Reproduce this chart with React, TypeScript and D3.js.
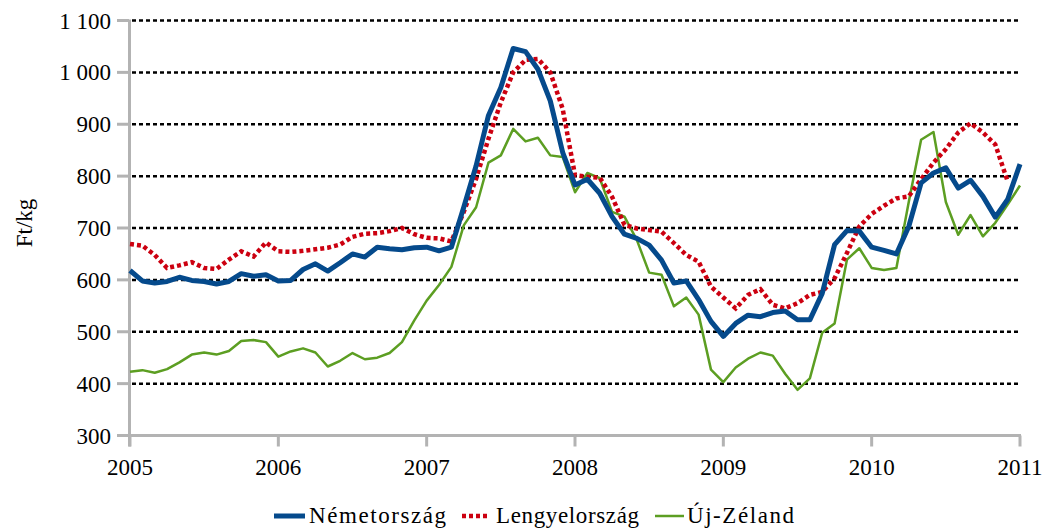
import React from "react";
import * as d3 from "d3";

const years = ["2005", "2006", "2007", "2008", "2009", "2010", "2011"];
const yTicks = [300, 400, 500, 600, 700, 800, 900, 1000, 1100];

const nemetorszag = [
  618, 598, 594, 597, 605, 599, 597, 592, 597, 612, 607, 610,
  598, 599, 620, 631, 617, 633, 650, 644, 663, 660, 658, 662,
  663, 656, 663, 740, 820, 917, 971, 1046, 1040, 1006, 945, 846,
  783, 794, 767, 722, 688, 680, 667, 638, 594, 598, 562, 520,
  491, 516, 532, 529, 537, 540, 523, 523, 574, 668, 695, 694,
  663, 657, 650, 703, 787, 806, 816, 777, 792, 761, 721, 755,
  823,
];

const lengyelorszag = [
  669, 666, 648, 623, 628, 634, 623, 621, 639, 655, 645, 672,
  655, 654, 656, 659, 662, 668, 683, 689, 690, 694, 700, 688,
  681, 680, 674, 731, 795, 872, 942, 1000, 1024, 1026, 1000, 930,
  802, 799, 797, 760, 706, 699, 696, 693, 671, 648, 635, 587,
  566, 545, 571, 582, 552, 545, 555, 571, 577, 603, 652, 703,
  727, 743, 757, 761, 794, 826, 852, 884, 902, 884, 861, 790,
];

const ujZeland = [
  423, 426, 421, 428, 441, 456, 460, 456, 463, 482, 484, 480,
  452, 462, 468, 460, 433, 444, 459, 447, 450, 459, 480, 522,
  560, 590, 625, 705, 740, 826, 840, 891, 867, 874, 840, 837,
  769, 806, 796, 731, 722, 677, 614, 610, 549, 566, 533, 427,
  403, 431, 448, 460, 454, 419, 388, 410, 498, 516, 639, 661,
  623, 619, 623, 750, 870, 885, 750, 687, 725, 684, 710, 745,
  782,
];

const seriesNames = ["Németország", "Lengyelország", "Új-Zéland"];

const W = 1045;
const H = 530;
const FONT = "'Liberation Serif', 'Times New Roman', serif";

export default function App() {
  const x = d3.scaleLinear().domain([0, 72]).range([130, 1020]);
  const y = d3.scaleLinear().domain([300, 1100]).range([435.5, 20.5]);
  const line = d3
    .line<number>()
    .x((_, i) => x(i))
    .y((d) => y(d));

  const axisColor = "#b3b3b3";
  const blue = "#054a8c";
  const red = "#cc0010";
  const green = "#5c9e22";

  const legend = [
    { name: seriesNames[0], color: blue, width: 5, dash: undefined as string | undefined, x1: 274, x2: 305, tx: 309, tl: 137 },
    { name: seriesNames[1], color: red, width: 4.5, dash: "4 3", x1: 462, x2: 489, tx: 496, tl: 143 },
    { name: seriesNames[2], color: green, width: 2.5, dash: undefined, x1: 655, x2: 684, tx: 687, tl: 107 },
  ];

  return (
    <svg
      width={W}
      height={H}
      style={{ position: "absolute", left: 0, top: 0, background: "#fff" }}
      fontFamily={FONT}
    >
      <rect x={0} y={0} width={W} height={H} fill="#fff" />
      {/* gridlines */}
      {yTicks
        .filter((t) => t > 300)
        .map((t) => (
          <line
            key={"g" + t}
            x1={132}
            x2={1021}
            y1={y(t)}
            y2={y(t)}
            stroke="#000"
            strokeWidth={2.5}
            strokeDasharray="4 3"
          />
        ))}
      {/* y axis */}
      <line x1={129.5} x2={129.5} y1={y(1100) - 1} y2={y(300) + 11} stroke={axisColor} strokeWidth={3} />
      {yTicks.map((t) => (
        <g key={"yt" + t}>
          <line x1={117} x2={129} y1={y(t)} y2={y(t)} stroke={axisColor} strokeWidth={3} />
          <text
            x={111}
            y={y(t)}
            dy="0.35em"
            textAnchor="end"
            fontSize={23}
            fill="#000"
          >
            {d3.format(",")(t).replace(",", " ")}
          </text>
        </g>
      ))}
      {/* x axis */}
      <line x1={128} x2={1021} y1={y(300)} y2={y(300)} stroke={axisColor} strokeWidth={3} />
      {years.map((yr, i) => (
        <g key={"xt" + yr}>
          <line x1={x(i * 12)} x2={x(i * 12)} y1={y(300)} y2={y(300) + 11} stroke={axisColor} strokeWidth={3} />
          <text x={x(i * 12)} y={475} textAnchor="middle" fontSize={23} fill="#000">
            {yr}
          </text>
        </g>
      ))}
      {/* y label */}
      <text
        transform={`translate(32, 223) rotate(-90)`}
        textAnchor="middle"
        fontSize={23}
        fill="#000"
      >
        Ft/kg
      </text>
      {/* series */}
      <path d={line(ujZeland) || ""} fill="none" stroke={green} strokeWidth={2.5} strokeLinejoin="round" />
      <path
        d={line(lengyelorszag) || ""}
        fill="none"
        stroke={red}
        strokeWidth={4.5}
        strokeDasharray="4 3"
      />
      <path d={line(nemetorszag) || ""} fill="none" stroke={blue} strokeWidth={5} strokeLinejoin="round" />
      {/* legend */}
      {legend.map((l) => (
        <g key={l.name}>
          <line
            x1={l.x1}
            x2={l.x2}
            y1={516}
            y2={516}
            stroke={l.color}
            strokeWidth={l.width}
            strokeDasharray={l.dash}
          />
          <text
            x={l.tx}
            y={523}
            fontSize={23}
            fill="#000"
            textLength={l.tl}
            lengthAdjust="spacing"
          >
            {l.name}
          </text>
        </g>
      ))}
    </svg>
  );
}
